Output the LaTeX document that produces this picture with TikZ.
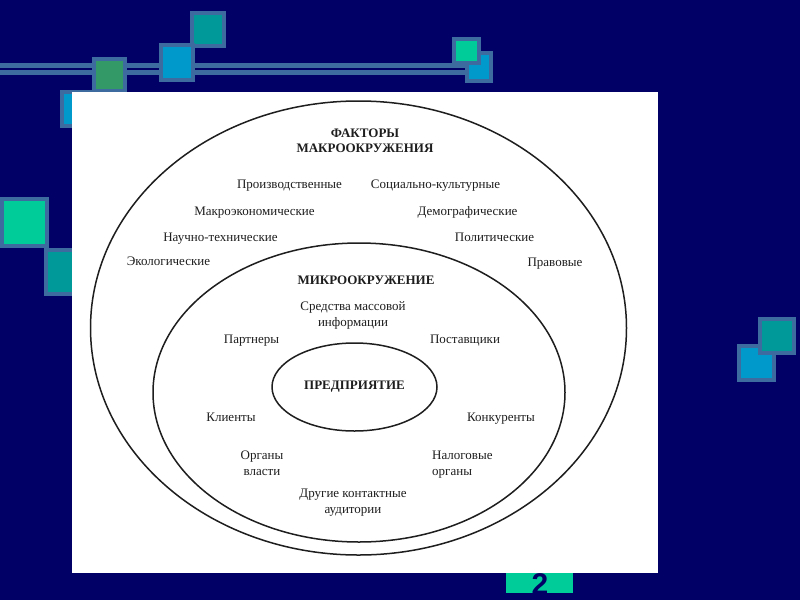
\documentclass[tikz,border=0pt]{standalone}
\usepackage{fontspec}
\setmainfont{Liberation Serif}
\newfontfamily\numfont{Liberation Sans}
\usetikzlibrary{shapes.geometric}
\definecolor{navybg}{RGB}{0,0,102}
\definecolor{steel}{RGB}{61,107,160}
\definecolor{tealsq}{RGB}{0,153,153}
\definecolor{bluesq}{RGB}{0,153,204}
\definecolor{greensq}{RGB}{51,153,102}
\definecolor{mintsq}{RGB}{0,204,153}
\definecolor{ink}{RGB}{30,30,30}
\tikzset{
  deco/.style={draw=steel, line width=4pt},
  ring/.style={ellipse, draw=ink, line width=1.5pt, inner sep=0pt},
  lbl/.style={text=ink, font=\fontsize{13}{16}\selectfont, anchor=base, inner sep=0pt, align=center},
  hdr/.style={text=ink, font=\fontsize{13}{15}\selectfont\bfseries, anchor=base, inner sep=0pt, align=center}
}
\begin{document}
\begin{tikzpicture}[x=1pt,y=-1pt]
\useasboundingbox (0,0) rectangle (800,600);
\fill[navybg] (0,0) rectangle (800,600);
% double line
\fill[steel] (0,63) rectangle (470,75);
\fill[navybg] (0,68) rectangle (470,70);
% squares
\filldraw[deco, fill=tealsq] (192,13) rectangle (224,46);
\filldraw[deco, fill=bluesq] (161,45) rectangle (193,80);
\filldraw[deco, fill=bluesq] (62,92) rectangle (93,126);
\filldraw[deco, fill=greensq] (94,59) rectangle (125,91);
\filldraw[deco, fill=bluesq] (467,53) rectangle (491,81);
\filldraw[deco, fill=mintsq] (454,39) rectangle (479,63);
\filldraw[deco, fill=mintsq] (2,199) rectangle (47,246);
\filldraw[deco, fill=tealsq] (46,250) rectangle (91,294);
\filldraw[deco, fill=bluesq] (739,346) rectangle (774,380);
\filldraw[deco, fill=tealsq] (760,319) rectangle (794,353);
% page number box
\fill[mintsq] (506,572) rectangle (573,593);
\node[text=navybg, font=\numfont\fontsize{30}{30}\selectfont\bfseries, anchor=base, inner sep=0pt] (pagenum) at (540,594) {2};
% white sheet
\fill[white] (72,92) rectangle (658,573);
% ellipses
\node[ring, minimum width=536pt, minimum height=454pt] (macro) at (358.5,328) {};
\node[ring, minimum width=412pt, minimum height=299pt] (micro) at (359,392.5) {};
\node[ring, minimum width=165pt, minimum height=88pt, text=ink, font=\fontsize{13}{15}\selectfont\bfseries] (firm) at (354.5,387) {ПРЕДПРИЯТИЕ};
% macro labels
\node[hdr] (macrotitle) at (365,152) {ФАКТОРЫ\\МАКРООКРУЖЕНИЯ};
\node[lbl] (prod) at (289.5,188) {Производственные};
\node[lbl] (soc) at (435.5,188) {Социально-культурные};
\node[lbl] (econ) at (254.5,215) {Макроэкономические};
\node[lbl] (demo) at (467.5,215) {Демографические};
\node[lbl] (tech) at (220.5,241) {Научно-технические};
\node[lbl] (pol) at (494.5,241) {Политические};
\node[lbl] (eco) at (168.5,265) {Экологические};
\node[lbl] (law) at (555,266) {Правовые};
% micro labels
\node[hdr] (microtitle) at (366,284) {МИКРООКРУЖЕНИЕ};
\node[lbl] (media) at (353,326) {Средства массовой\\информации};
\node[lbl] (partners) at (251.5,343) {Партнеры};
\node[lbl] (suppliers) at (465,343) {Поставщики};
\node[lbl] (clients) at (231,421) {Клиенты};
\node[lbl] (rivals) at (501,421) {Конкуренты};
\node[lbl] (gov) at (262,475) {Органы\\власти};
\node[lbl, anchor=base west, align=left] (tax) at (432,475) {Налоговые\\органы};
\node[lbl] (other) at (353,513) {Другие контактные\\аудитории};
\end{tikzpicture}
\end{document}
